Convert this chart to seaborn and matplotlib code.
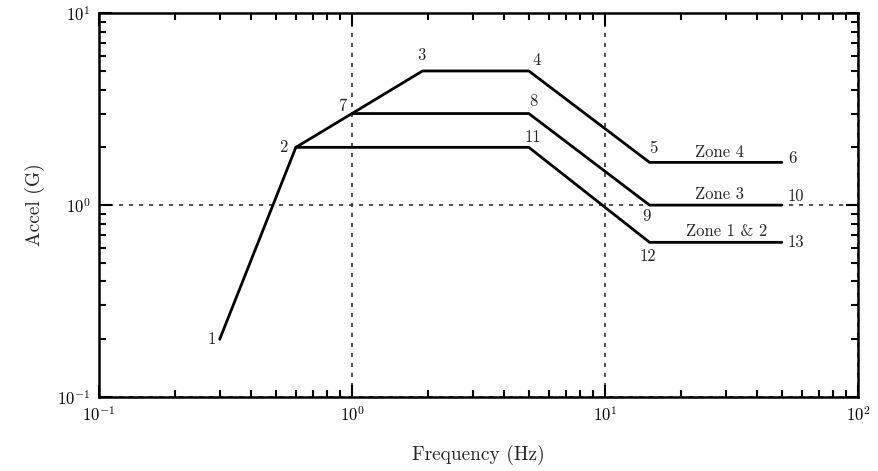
import matplotlib
matplotlib.use("Agg")
import matplotlib.pyplot as plt
import seaborn as sns
import pandas as pd
from matplotlib.ticker import LogLocator, LogFormatterSciNotation, NullFormatter

# ---- data ----
zone12_freq = [0.3, 0.6, 5.0, 15.0, 50.0]
zone12_acc = [0.2, 2.0, 2.0, 0.64, 0.64]
zone12_pts = ["1", "2", "11", "12", "13"]

zone3_freq = [0.6, 1.0, 5.0, 15.0, 50.0]
zone3_acc = [2.0, 3.0, 3.0, 1.0, 1.0]
zone3_pts = ["2", "7", "8", "9", "10"]

zone4_freq = [1.0, 1.9, 5.0, 15.0, 50.0]
zone4_acc = [3.0, 5.0, 5.0, 1.67, 1.67]
zone4_pts = ["7", "3", "4", "5", "6"]

zone_names = ["Zone 1 & 2", "Zone 3", "Zone 4"]

sns.set_style("ticks")
plt.rcParams["font.family"] = ["cmr10", "DejaVu Serif"]
plt.rcParams["mathtext.fontset"] = "cm"
plt.rcParams["axes.formatter.use_mathtext"] = True
plt.rcParams["axes.unicode_minus"] = False

frames = []
for name, f, a in zip(zone_names, [zone12_freq, zone3_freq, zone4_freq],
                      [zone12_acc, zone3_acc, zone4_acc]):
    frames.append(pd.DataFrame({"freq": f, "acc": a, "zone": name, "order": range(len(f))}))
df = pd.concat(frames, ignore_index=True)

fig = plt.figure(figsize=(8.79, 4.71), dpi=100)
ax = fig.add_axes([0.1126, 0.157, 0.8635, 0.815])

sns.lineplot(data=df, x="freq", y="acc", hue="zone", units="zone", estimator=None,
             sort=False, palette=["black"] * 3, linewidth=2.0, legend=False, ax=ax)

ax.set_xscale("log")
ax.set_yscale("log")
ax.set_xlim(0.1, 100)
ax.set_ylim(0.1, 10)

ax.xaxis.set_major_locator(LogLocator(base=10, numticks=10))
ax.yaxis.set_major_locator(LogLocator(base=10, numticks=10))
ax.xaxis.set_minor_locator(LogLocator(base=10, subs=range(2, 10), numticks=20))
ax.yaxis.set_minor_locator(LogLocator(base=10, subs=range(2, 10), numticks=20))
ax.xaxis.set_major_formatter(LogFormatterSciNotation())
ax.yaxis.set_major_formatter(LogFormatterSciNotation())
ax.xaxis.set_minor_formatter(NullFormatter())
ax.yaxis.set_minor_formatter(NullFormatter())

ax.tick_params(which="both", direction="in", top=True, right=True, colors="black",
               labelsize=12, width=1.5)
ax.tick_params(which="major", length=9, pad=6)
ax.tick_params(which="minor", length=5)
for s in ax.spines.values():
    s.set_linewidth(1.8)
    s.set_color("black")

ax.grid(True, which="major", linestyle=(0, (2.5, 3.5)), color="0.2", linewidth=1.2)

ax.set_xlabel("Frequency (Hz)", fontsize=14, labelpad=15)
ax.set_ylabel("Accel (G)", fontsize=14, labelpad=9)

# point labels
offsets = {
    "1": (-6, 0), "2": (-9, 0), "11": (3, 7), "12": (-1, -10), "13": (10, 0),
    "7": (-7, 5), "8": (3, 9), "9": (-2, -8), "10": (10, 6),
    "3": (-1, 11), "4": (6, 8), "5": (3, 10), "6": (8, 3),
}
seen = set()
for f, a, p in zip(zone12_freq + zone3_freq + zone4_freq,
                   zone12_acc + zone3_acc + zone4_acc,
                   zone12_pts + zone3_pts + zone4_pts):
    if p in seen:
        continue
    seen.add(p)
    ax.annotate(p, (f, a), xytext=offsets[p], textcoords="offset points",
                ha="center", va="center", fontsize=12)

# zone labels above flat tail segments
zone_off = {"Zone 1 & 2": (8, 8), "Zone 3": (3, 8), "Zone 4": (3, 7)}
for name, f, a in zip(zone_names, [zone12_freq, zone3_freq, zone4_freq],
                      [zone12_acc, zone3_acc, zone4_acc]):
    xm = (f[-2] * f[-1]) ** 0.5
    ax.annotate(name, (xm, a[-1]), xytext=zone_off[name], textcoords="offset points",
                ha="center", va="center", fontsize=12)

fig.savefig("out.png", dpi=100)
